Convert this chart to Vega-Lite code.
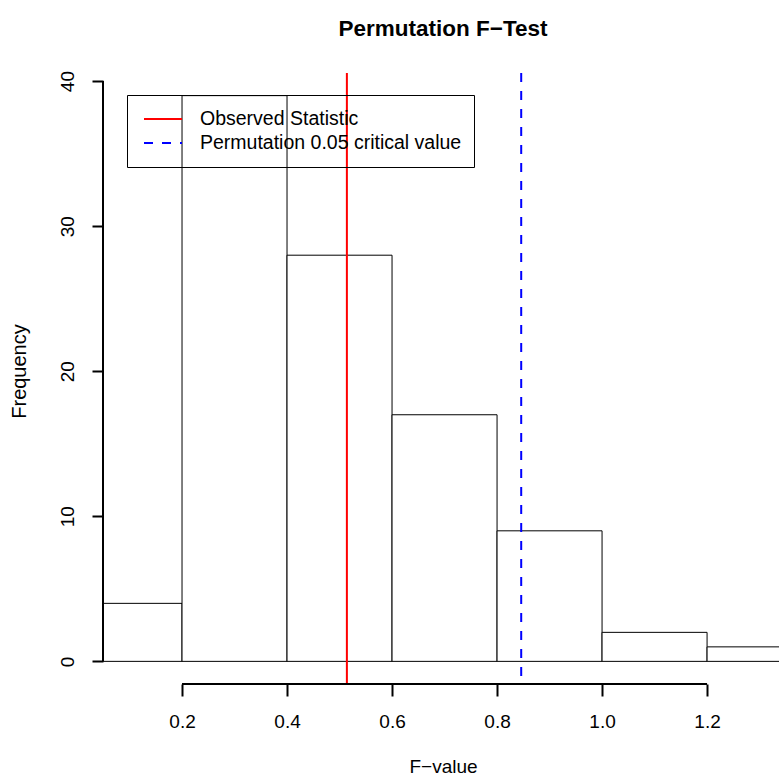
{
  "$schema": "https://vega.github.io/schema/vega-lite/v6.json",
  "autosize": {"type": "none"},
  "padding": {"left": 103, "top": 73, "right": 0, "bottom": 92},
  "width": 676,
  "height": 611,
  "background": "white",
  "config": {
    "view": {"stroke": null},
    "font": "Liberation Sans",
    "axis": {"grid": false, "domain": false, "labelColor": "black", "titleColor": "black", "tickColor": "black", "tickWidth": 2, "labelFont": "Liberation Sans", "titleFont": "Liberation Sans", "titleFontWeight": "normal"}
  },
  "title": {"text": "Permutation F−Test", "fontSize": 22.5, "fontWeight": "bold", "font": "Liberation Sans", "color": "black", "anchor": "middle", "frame": "group", "offset": 30, "dx": 2},
  "datasets": {
    "bins": [
      {"bin_start": 0.0, "bin_end": 0.2, "count": 4},
      {"bin_start": 0.2, "bin_end": 0.4, "count": 39},
      {"bin_start": 0.4, "bin_end": 0.6, "count": 28},
      {"bin_start": 0.6, "bin_end": 0.8, "count": 17},
      {"bin_start": 0.8, "bin_end": 1.0, "count": 9},
      {"bin_start": 1.0, "bin_end": 1.2, "count": 2},
      {"bin_start": 1.2, "bin_end": 1.4, "count": 1}
    ],
    "lines": [
      {"label": "Observed Statistic", "value": 0.514},
      {"label": "Permutation 0.05 critical value", "value": 0.846}
    ]
  },
  "layer": [
    {
      "data": {"name": "bins"},
      "mark": {"type": "rect", "fill": "white", "stroke": "black", "strokeWidth": 1, "clip": true},
      "encoding": {
        "x": {"field": "bin_start", "type": "quantitative", "scale": {"domain": [0.0495, 1.337], "nice": false, "zero": false},
          "axis": {"values": [0.2, 0.4, 0.6, 0.8, 1.0, 1.2], "format": ".1f", "tickSize": 12, "labelFontSize": 19, "labelPadding": 16, "title": "F−value", "titleFontSize": 19, "titleX": 340, "titleY": 88, "titleBaseline": "alphabetic", "titleAlign": "center", "titleAnchor": null}},
        "x2": {"field": "bin_end"},
        "y": {"field": "count", "type": "quantitative", "scale": {"domain": [-1.56, 40.56], "nice": false, "zero": false},
          "axis": {"values": [0, 10, 20, 30, 40], "tickSize": 11, "labelFontSize": 19, "labelAngle": 270, "labelAlign": "center", "labelBaseline": "alphabetic", "labelPadding": 19, "title": "Frequency", "titleFontSize": 20, "titleAngle": 270, "titleX": -78, "titleY": 298, "titleBaseline": "alphabetic", "titleAlign": "center", "titleAnchor": null}},
        "y2": {"datum": 0}
      }
    },
    {
      "data": {"name": "lines"},
      "mark": {"type": "rule", "strokeWidth": 2},
      "encoding": {
        "x": {"field": "value", "type": "quantitative"},
        "stroke": {"field": "label", "type": "nominal",
          "scale": {"domain": ["Observed Statistic", "Permutation 0.05 critical value"], "range": ["#ff0000", "#0000ff"]},
          "legend": {"title": null, "orient": "none", "legendX": 24, "legendY": 22, "direction": "vertical", "symbolType": "stroke", "symbolSize": 1444, "symbolStrokeWidth": 2, "labelFontSize": 19.5, "labelFont": "Liberation Sans", "labelColor": "black", "padding": 12, "strokeColor": "black", "fillColor": null, "cornerRadius": 0, "clipHeight": 24, "rowPadding": -2, "symbolOffset": 4, "labelOffset": 17, "labelLimit": 0}},
        "strokeDash": {"field": "label", "type": "nominal",
          "scale": {"domain": ["Observed Statistic", "Permutation 0.05 critical value"], "range": [[1, 0], [9, 9]]}}
      }
    },
    {
      "data": {"values": [{}]},
      "mark": {"type": "rule", "color": "black", "strokeWidth": 2},
      "encoding": {"x": {"datum": 0.0495}, "y": {"datum": 0}, "y2": {"datum": 40}}
    },
    {
      "data": {"values": [{}]},
      "mark": {"type": "rule", "color": "black", "strokeWidth": 2},
      "encoding": {"x": {"datum": 0.2}, "x2": {"datum": 1.2}, "y": {"datum": -1.56}}
    }
  ]
}
